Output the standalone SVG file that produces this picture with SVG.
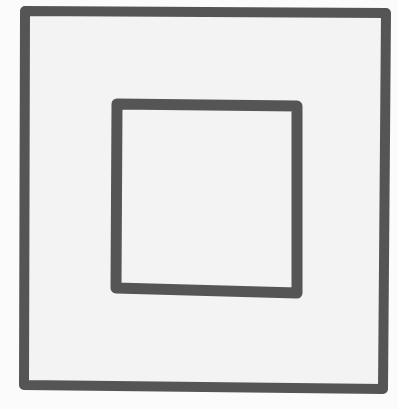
<svg xmlns="http://www.w3.org/2000/svg" width="398" height="409" viewBox="0 0 398 409">
<style>
.sq{fill:#f3f3f3;stroke:#555;stroke-linejoin:round;stroke-linecap:round}
</style>
<rect width="398" height="409" fill="#fbfbfb"/>
<g id="outer"><path class="sq" stroke-width="10" d="M25,11 L386,13 L383,389 L24,385 Z"/></g>
<g id="inner"><path class="sq" stroke-width="11" d="M117,104 L297,106 L297,293 L116,288 Z"/></g>
<g id="connectors"></g>
</svg>
